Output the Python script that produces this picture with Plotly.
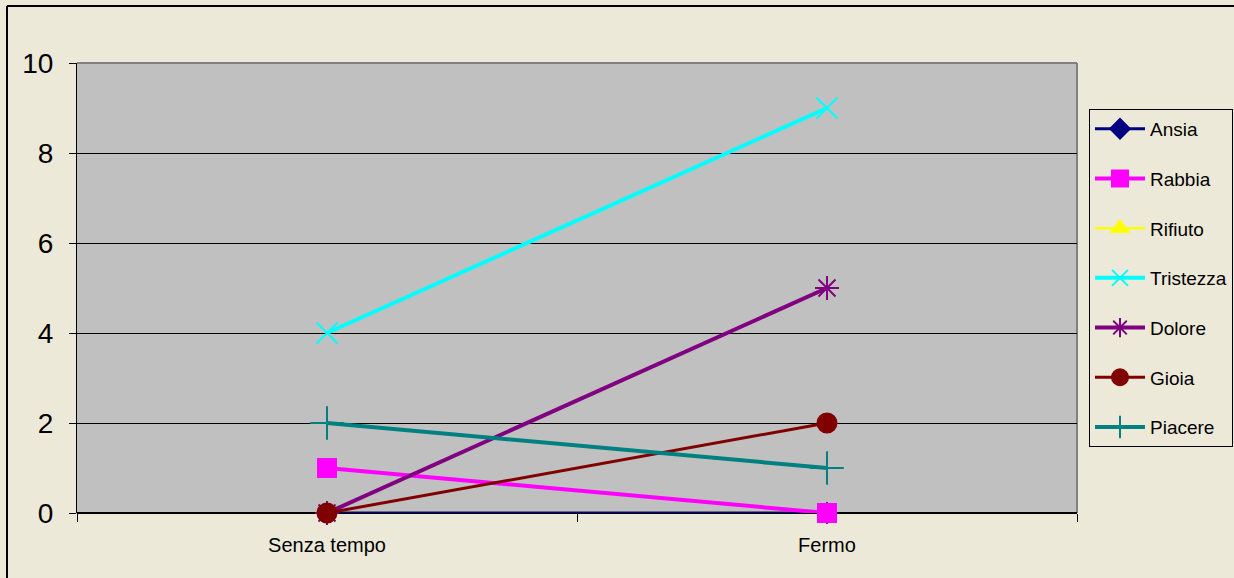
import plotly.graph_objects as go

categories = ["Senza tempo", "Fermo"]

series_names = ["Ansia", "Rabbia", "Rifiuto", "Tristezza", "Dolore", "Gioia", "Piacere"]
ansia = [0, 0]
rabbia = [1, 0]
rifiuto = [0, 0]
tristezza = [4, 9]
dolore = [0, 5]
gioia = [0, 2]
piacere = [2, 1]

y_ticks = [0, 2, 4, 6, 8, 10]

values = dict(Ansia=ansia, Rabbia=rabbia, Rifiuto=rifiuto, Tristezza=tristezza,
              Dolore=dolore, Gioia=gioia, Piacere=piacere)
styles = dict(
    Ansia=dict(color="#000080", width=3, symbol="diamond", size=15),
    Rabbia=dict(color="#FF00FF", width=4, symbol="square", size=18),
    Rifiuto=dict(color="#FFFF00", width=2.5, symbol="triangle-up", size=15),
    Tristezza=dict(color="#00FFFF", width=4, symbol="x-thin-open", size=21),
    Dolore=dict(color="#800080", width=4, symbol="asterisk-open", size=20),
    Gioia=dict(color="#800000", width=3, symbol="circle", size=19),
    Piacere=dict(color="#008080", width=4, symbol="cross-thin-open", size=24),
)

# drawing order: the yellow line sits underneath the navy baseline
draw_order = ["Rifiuto", "Ansia", "Rabbia", "Tristezza", "Dolore", "Gioia", "Piacere"]

font = "Liberation Sans, Arial, sans-serif"

fig = go.Figure()
for name in draw_order:
    st = styles[name]
    fig.add_trace(go.Scatter(
        x=categories, y=values[name], name=name, mode="lines+markers",
        legendgroup=name, legendrank=series_names.index(name) + 1,
        line=dict(color=st["color"], width=st["width"]),
        marker=dict(symbol=st["symbol"], size=st["size"], color=st["color"],
                    line=dict(color=st["color"], width=2)),
        cliponaxis=False,
    ))

fig.update_layout(
    width=1234, height=578,
    margin=dict(l=77, r=157, t=63, b=65, autoexpand=False),
    paper_bgcolor="#ECE9D8",
    plot_bgcolor="#C0C0C0",
    font=dict(family=font, color="black", size=20),
    showlegend=True,
    legend=dict(
        x=1.012, y=0.898, xanchor="left", yanchor="top",
        bgcolor="#ECE9D8", bordercolor="black", borderwidth=1,
        font=dict(family=font, size=19, color="black"),
        tracegroupgap=22, itemwidth=50,
    ),
    xaxis=dict(
        type="category", range=[-0.5, 1.5], tickson="boundaries",
        ticks="outside", ticklen=8, tickcolor="black",
        showgrid=False, showline=False, zeroline=False,
        tickfont=dict(family=font, size=20),
        ticklabelstandoff=18,
    ),
    yaxis=dict(
        range=[0, 10], tickvals=y_ticks, ticks="outside", ticklen=7,
        tickcolor="black", showgrid=True, gridcolor="black", gridwidth=1,
        showline=True, linecolor="black", linewidth=1, zeroline=False,
        tickfont=dict(family=font, size=28),
        ticklabelstandoff=10,
    ),
    shapes=[
        # plot area frame (top and right edges in gray)
        dict(type="line", xref="paper", yref="paper", x0=0, x1=1, y0=1, y1=1,
             line=dict(color="#808080", width=2), layer="below"),
        dict(type="line", xref="paper", yref="paper", x0=1, x1=1, y0=0, y1=1,
             line=dict(color="#808080", width=2), layer="below"),
        dict(type="line", xref="paper", yref="paper", x0=0, x1=1, y0=0, y1=0,
             line=dict(color="black", width=2), layer="below"),
        # outer chart border: top and left edges
        dict(type="line", xref="paper", yref="paper", x0=-0.07, x1=1.157,
             y0=1.1267, y1=1.1267, line=dict(color="black", width=2),
             layer="below"),
        dict(type="line", xref="paper", yref="paper", x0=-0.07, x1=-0.07,
             y0=-0.1444, y1=1.1267, line=dict(color="black", width=2),
             layer="below"),
    ],
)

fig.write_html("out.html", config=dict(displayModeBar=False))
